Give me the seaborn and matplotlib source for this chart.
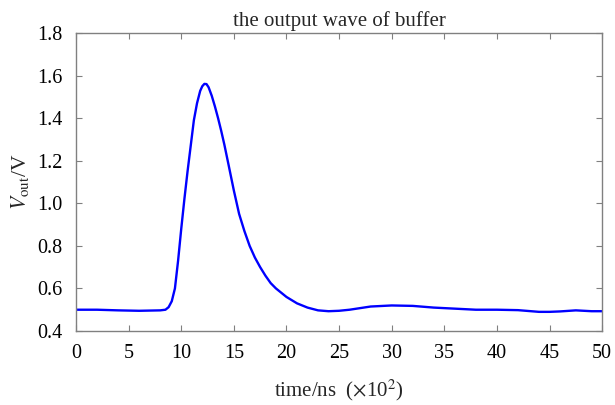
import pandas as pd
import matplotlib
matplotlib.use("Agg")
import matplotlib.pyplot as plt
import seaborn as sns

# values (time in units of 100 ns, voltage in V)
time_ns = [0, 2, 4, 6, 8, 8.5, 8.8, 9.1, 9.4, 9.7, 10.0, 10.3, 10.6, 10.9,
           11.2, 11.5, 11.8, 12.0, 12.2, 12.4, 12.6, 12.9, 13.2, 13.5, 13.8,
           14.1, 14.5, 15.0, 15.5, 16.0, 16.5, 17.0, 17.5, 18.0, 18.5, 19.0,
           19.5, 20, 21, 22, 23, 24, 25, 26, 28, 30, 32, 34, 36, 38, 40, 42,
           44, 45, 46, 47.5, 49, 50]
v_out = [0.500, 0.500, 0.497, 0.495, 0.497, 0.500, 0.512, 0.540, 0.600, 0.730,
         0.880, 1.020, 1.150, 1.270, 1.390, 1.470, 1.528, 1.550, 1.561, 1.560,
         1.545, 1.505, 1.455, 1.400, 1.340, 1.275, 1.180, 1.060, 0.950, 0.870,
         0.800, 0.745, 0.700, 0.660, 0.625, 0.600, 0.580, 0.560, 0.530, 0.510,
         0.497, 0.493, 0.495, 0.500, 0.515, 0.520, 0.518, 0.510, 0.505, 0.500,
         0.500, 0.498, 0.490, 0.490, 0.492, 0.497, 0.493, 0.493]

x_ticks = [0, 5, 10, 15, 20, 25, 30, 35, 40, 45, 50]
y_ticks = [0.4, 0.6, 0.8, 1.0, 1.2, 1.4, 1.6, 1.8]

sns.set_style("white")
plt.rcParams["font.family"] = ["Liberation Serif", "DejaVu Serif"]
plt.rcParams["mathtext.fontset"] = "stix"

df = pd.DataFrame({"t": time_ns, "v": v_out})

fig = plt.figure(figsize=(6.15, 4.05), dpi=100)
ax = fig.add_axes([0.1236, 0.1827, 0.8555, 0.7358])

sns.lineplot(data=df, x="t", y="v", ax=ax, color="#0000ff", linewidth=1.7)

ax.set_xlim(0, 50)
ax.set_ylim(0.4, 1.8)
ax.set_xticks(x_ticks)
ax.set_yticks(y_ticks)
ax.set_yticklabels([f"{y:.1f}" for y in y_ticks])

for s in ax.spines.values():
    s.set_color("#808080")
    s.set_linewidth(1.0)
    s.set_visible(True)

ax.tick_params(direction="in", length=4, width=0.8, color="#808080",
               top=True, right=True, bottom=True, left=True,
               labelsize=14.5, labelcolor="black")
ax.tick_params(axis="y", pad=9.5)
ax.tick_params(axis="x", pad=9)

ax.set_title("the output wave of buffer", fontsize=15, pad=5)
ax.set_xlabel(r"time/ns  ($\times$10$^{2}$)", fontsize=15, labelpad=11)
ax.set_ylabel(r"$V_{\mathrm{out}}$/V", fontsize=15.5, labelpad=5)

fig.savefig("out.png", dpi=100)
plt.close()
